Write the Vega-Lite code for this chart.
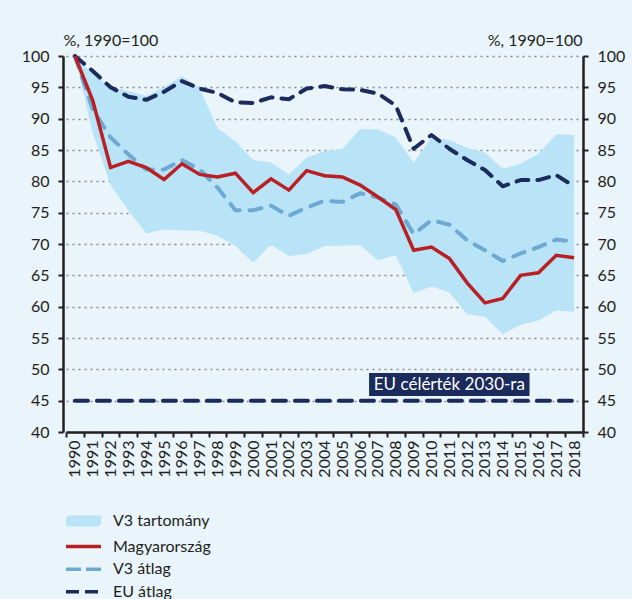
{
  "$schema": "https://vega.github.io/schema/vega-lite/v6.json",
  "width": 517,
  "height": 376,
  "autosize": "none",
  "padding": {"left": 66, "top": 56, "right": 49, "bottom": 167},
  "background": "#EAF4FB",
  "config": {
    "font": "Lato",
    "view": {"stroke": null},
    "axis": {
      "labelFont": "Lato", "labelFontSize": 16, "labelColor": "#231F20",
      "domainColor": "#231F20", "tickColor": "#231F20", "domainWidth": 2.5,
      "tickWidth": 2, "tickSize": 5,
      "titleFont": "Lato", "titleFontSize": 16, "titleColor": "#231F20", "titleFontWeight": "normal"
    },
    "legend": {
      "orient": "none", "legendX": -3, "legendY": 457, "title": null,
      "symbolSize": 100, "symbolStrokeWidth": 3.5, "symbolOpacity": 1,
      "labelFont": "Lato", "labelFontSize": 16, "labelColor": "#231F20",
      "labelOffset": 34, "rowPadding": 6.6
    }
  },
  "datasets": {
    "band": [
      {"year": "1990", "lo": 100, "hi": 100},
      {"year": "1991", "lo": 87.7, "hi": 97.1},
      {"year": "1992", "lo": 79.4, "hi": 95.0},
      {"year": "1993", "lo": 75.3, "hi": 94.4},
      {"year": "1994", "lo": 71.7, "hi": 93.6},
      {"year": "1995", "lo": 72.3, "hi": 95.0},
      {"year": "1996", "lo": 72.2, "hi": 96.8},
      {"year": "1997", "lo": 72.1, "hi": 94.8},
      {"year": "1998", "lo": 71.3, "hi": 88.5},
      {"year": "1999", "lo": 69.7, "hi": 86.4},
      {"year": "2000", "lo": 67.0, "hi": 83.4},
      {"year": "2001", "lo": 69.9, "hi": 83.0},
      {"year": "2002", "lo": 68.1, "hi": 81.1},
      {"year": "2003", "lo": 68.4, "hi": 83.8},
      {"year": "2004", "lo": 69.7, "hi": 84.8},
      {"year": "2005", "lo": 69.8, "hi": 85.2},
      {"year": "2006", "lo": 69.8, "hi": 88.3},
      {"year": "2007", "lo": 67.4, "hi": 88.3},
      {"year": "2008", "lo": 68.2, "hi": 87.0},
      {"year": "2009", "lo": 62.2, "hi": 83.0},
      {"year": "2010", "lo": 63.2, "hi": 87.0},
      {"year": "2011", "lo": 62.3, "hi": 86.6},
      {"year": "2012", "lo": 58.8, "hi": 85.3},
      {"year": "2013", "lo": 58.4, "hi": 84.6},
      {"year": "2014", "lo": 55.6, "hi": 82.0},
      {"year": "2015", "lo": 57.1, "hi": 82.8},
      {"year": "2016", "lo": 57.8, "hi": 84.4},
      {"year": "2017", "lo": 59.4, "hi": 87.5},
      {"year": "2018", "lo": 59.2, "hi": 87.4}
    ],
    "lines": [
      {"year": "1990", "s": "Magyarország", "v": 100},
      {"year": "1991", "s": "Magyarország", "v": 92.9},
      {"year": "1992", "s": "Magyarország", "v": 82.2},
      {"year": "1993", "s": "Magyarország", "v": 83.2},
      {"year": "1994", "s": "Magyarország", "v": 82.2},
      {"year": "1995", "s": "Magyarország", "v": 80.3},
      {"year": "1996", "s": "Magyarország", "v": 82.8},
      {"year": "1997", "s": "Magyarország", "v": 81.1},
      {"year": "1998", "s": "Magyarország", "v": 80.7},
      {"year": "1999", "s": "Magyarország", "v": 81.3},
      {"year": "2000", "s": "Magyarország", "v": 78.2},
      {"year": "2001", "s": "Magyarország", "v": 80.4},
      {"year": "2002", "s": "Magyarország", "v": 78.6},
      {"year": "2003", "s": "Magyarország", "v": 81.7},
      {"year": "2004", "s": "Magyarország", "v": 80.9},
      {"year": "2005", "s": "Magyarország", "v": 80.7},
      {"year": "2006", "s": "Magyarország", "v": 79.4},
      {"year": "2007", "s": "Magyarország", "v": 77.5},
      {"year": "2008", "s": "Magyarország", "v": 75.5},
      {"year": "2009", "s": "Magyarország", "v": 69.0},
      {"year": "2010", "s": "Magyarország", "v": 69.5},
      {"year": "2011", "s": "Magyarország", "v": 67.7},
      {"year": "2012", "s": "Magyarország", "v": 63.8},
      {"year": "2013", "s": "Magyarország", "v": 60.6},
      {"year": "2014", "s": "Magyarország", "v": 61.3},
      {"year": "2015", "s": "Magyarország", "v": 65.0},
      {"year": "2016", "s": "Magyarország", "v": 65.4},
      {"year": "2017", "s": "Magyarország", "v": 68.2},
      {"year": "2018", "s": "Magyarország", "v": 67.8},
      {"year": "1990", "s": "V3 átlag", "v": 100},
      {"year": "1991", "s": "V3 átlag", "v": 91.5},
      {"year": "1992", "s": "V3 átlag", "v": 87.0},
      {"year": "1993", "s": "V3 átlag", "v": 84.3},
      {"year": "1994", "s": "V3 átlag", "v": 81.9},
      {"year": "1995", "s": "V3 átlag", "v": 81.9},
      {"year": "1996", "s": "V3 átlag", "v": 83.4},
      {"year": "1997", "s": "V3 átlag", "v": 81.9},
      {"year": "1998", "s": "V3 átlag", "v": 79.0},
      {"year": "1999", "s": "V3 átlag", "v": 75.4},
      {"year": "2000", "s": "V3 átlag", "v": 75.4},
      {"year": "2001", "s": "V3 átlag", "v": 76.1},
      {"year": "2002", "s": "V3 átlag", "v": 74.5},
      {"year": "2003", "s": "V3 átlag", "v": 75.8},
      {"year": "2004", "s": "V3 átlag", "v": 76.9},
      {"year": "2005", "s": "V3 átlag", "v": 76.7},
      {"year": "2006", "s": "V3 átlag", "v": 78.1},
      {"year": "2007", "s": "V3 átlag", "v": 77.4},
      {"year": "2008", "s": "V3 átlag", "v": 76.3},
      {"year": "2009", "s": "V3 átlag", "v": 71.6},
      {"year": "2010", "s": "V3 átlag", "v": 73.8},
      {"year": "2011", "s": "V3 átlag", "v": 73.1},
      {"year": "2012", "s": "V3 átlag", "v": 70.6},
      {"year": "2013", "s": "V3 átlag", "v": 69.0},
      {"year": "2014", "s": "V3 átlag", "v": 67.3},
      {"year": "2015", "s": "V3 átlag", "v": 68.5},
      {"year": "2016", "s": "V3 átlag", "v": 69.5},
      {"year": "2017", "s": "V3 átlag", "v": 70.7},
      {"year": "2018", "s": "V3 átlag", "v": 70.4},
      {"year": "1990", "s": "EU átlag", "v": 100},
      {"year": "1991", "s": "EU átlag", "v": 97.6},
      {"year": "1992", "s": "EU átlag", "v": 95.0},
      {"year": "1993", "s": "EU átlag", "v": 93.5},
      {"year": "1994", "s": "EU átlag", "v": 93.0},
      {"year": "1995", "s": "EU átlag", "v": 94.3},
      {"year": "1996", "s": "EU átlag", "v": 96.0},
      {"year": "1997", "s": "EU átlag", "v": 94.8},
      {"year": "1998", "s": "EU átlag", "v": 94.1},
      {"year": "1999", "s": "EU átlag", "v": 92.6},
      {"year": "2000", "s": "EU átlag", "v": 92.5},
      {"year": "2001", "s": "EU átlag", "v": 93.4},
      {"year": "2002", "s": "EU átlag", "v": 93.1},
      {"year": "2003", "s": "EU átlag", "v": 94.8},
      {"year": "2004", "s": "EU átlag", "v": 95.2},
      {"year": "2005", "s": "EU átlag", "v": 94.7},
      {"year": "2006", "s": "EU átlag", "v": 94.6},
      {"year": "2007", "s": "EU átlag", "v": 94.0},
      {"year": "2008", "s": "EU átlag", "v": 92.1},
      {"year": "2009", "s": "EU átlag", "v": 85.2},
      {"year": "2010", "s": "EU átlag", "v": 87.4},
      {"year": "2011", "s": "EU átlag", "v": 85.2},
      {"year": "2012", "s": "EU átlag", "v": 83.4},
      {"year": "2013", "s": "EU átlag", "v": 81.8},
      {"year": "2014", "s": "EU átlag", "v": 79.2},
      {"year": "2015", "s": "EU átlag", "v": 80.2},
      {"year": "2016", "s": "EU átlag", "v": 80.2},
      {"year": "2017", "s": "EU átlag", "v": 81.0},
      {"year": "2018", "s": "EU átlag", "v": 79.2}
    ],
    "target": [
      {"year": "1990", "v": 45},
      {"year": "2018", "v": 45}
    ],
    "label": [
      {"year": "2007", "year2": "2016", "top": 49.4, "bottom": 45.75, "mid": 47.55, "center": "2011", "text": "EU célérték 2030-ra"}
    ]
  },
  "layer": [
    {
      "data": {"name": "band"},
      "mark": {"type": "area", "opacity": 1, "color": "#B9E3F6"},
      "encoding": {
        "x": {
          "field": "year", "type": "ordinal", "bandPosition": 0.5,
          "scale": {"type": "band", "paddingInner": 0, "paddingOuter": 0},
          "axis": {"title": null, "labelAngle": -90, "tickBand": "extent", "labelPadding": 3, "grid": false}
        },
        "y": {
          "field": "hi", "type": "quantitative",
          "scale": {"domain": [40, 100], "nice": false, "zero": false},
          "axis": {
            "orient": "left", "offset": 3, "values": [40, 45, 50, 55, 60, 65, 70, 75, 80, 85, 90, 95, 100],
            "grid": true, "gridDash": [2, 4], "gridColor": "#8A8A8A", "gridWidth": 1.5,
            "labelPadding": 9,
            "title": "%, 1990=100", "titleAngle": 0, "titleAlign": "left", "titleBaseline": "alphabetic",
            "titleX": 0, "titleY": -11
          }
        },
        "y2": {"field": "lo"}
      }
    },
    {
      "data": {"name": "lines"},
      "transform": [{"filter": "datum.s === 'V3 átlag'"}],
      "mark": {"type": "line", "strokeWidth": 4, "strokeDash": [12, 10], "strokeCap": "round", "strokeJoin": "round", "color": "#6DA9D2"},
      "encoding": {
        "x": {"field": "year", "type": "ordinal", "bandPosition": 0.5},
        "y": {"field": "v", "type": "quantitative", "axis": null}
      }
    },
    {
      "data": {"name": "lines"},
      "transform": [{"filter": "datum.s === 'EU átlag'"}],
      "mark": {"type": "line", "strokeWidth": 4, "strokeDash": [12, 9], "strokeCap": "round", "strokeJoin": "round", "color": "#1A2B5C"},
      "encoding": {
        "x": {"field": "year", "type": "ordinal", "bandPosition": 0.5},
        "y": {"field": "v", "type": "quantitative", "axis": null}
      }
    },
    {
      "data": {"name": "lines"},
      "transform": [{"filter": "datum.s === 'Magyarország'"}],
      "mark": {"type": "line", "strokeWidth": 3.5, "strokeJoin": "miter", "color": "#B82025"},
      "encoding": {
        "x": {"field": "year", "type": "ordinal", "bandPosition": 0.5},
        "y": {"field": "v", "type": "quantitative", "axis": null}
      }
    },
    {
      "data": {"name": "target"},
      "mark": {"type": "line", "strokeWidth": 4, "strokeDash": [13, 9], "strokeCap": "round", "color": "#1A2B5C"},
      "encoding": {
        "x": {"field": "year", "type": "ordinal", "bandPosition": 0.5},
        "y": {
          "field": "v", "type": "quantitative",
          "axis": {
            "orient": "right", "values": [40, 45, 50, 55, 60, 65, 70, 75, 80, 85, 90, 95, 100],
            "grid": false, "labelPadding": 9,
            "title": "%, 1990=100", "titleAngle": 0, "titleAlign": "right", "titleBaseline": "alphabetic",
            "titleX": -1, "titleY": -11
          }
        }
      }
    },
    {
      "data": {"name": "label"},
      "mark": {"type": "rect", "color": "#1A2B5C"},
      "encoding": {
        "x": {"field": "year", "type": "ordinal", "bandPosition": 0},
        "x2": {"field": "year2", "bandPosition": 0},
        "y": {"field": "top", "type": "quantitative", "axis": null},
        "y2": {"field": "bottom"}
      }
    },
    {
      "data": {"name": "label"},
      "mark": {"type": "text", "color": "white", "fontSize": 17, "font": "Lato", "align": "center", "baseline": "middle"},
      "encoding": {
        "x": {"field": "center", "type": "ordinal", "bandPosition": 0.5},
        "y": {"field": "mid", "type": "quantitative", "axis": null},
        "text": {"field": "text"}
      }
    },
    {
      "data": {"values": [
        {"s": "V3 tartomány"},
        {"s": "Magyarország"},
        {"s": "V3 átlag"},
        {"s": "EU átlag"}
      ]},
      "mark": {"type": "point", "opacity": 0, "size": 0},
      "encoding": {
        "stroke": {
          "field": "s", "type": "nominal",
          "scale": {
            "domain": ["V3 tartomány", "Magyarország", "V3 átlag", "EU átlag"],
            "range": ["#B9E3F6", "#B82025", "#6DA9D2", "#1A2B5C"]
          },
          "legend": {"title": null}
        },
        "fill": {
          "field": "s", "type": "nominal",
          "scale": {
            "domain": ["V3 tartomány", "Magyarország", "V3 átlag", "EU átlag"],
            "range": ["#B9E3F6", "transparent", "transparent", "transparent"]
          },
          "legend": {"title": null}
        },
        "strokeDash": {
          "field": "s", "type": "nominal",
          "scale": {
            "domain": ["V3 tartomány", "Magyarország", "V3 átlag", "EU átlag"],
            "range": [[1, 0], [1, 0], [15, 5], [13, 6]]
          },
          "legend": {"title": null}
        },
        "shape": {
          "field": "s", "type": "nominal",
          "scale": {
            "domain": ["V3 tartomány", "Magyarország", "V3 átlag", "EU átlag"],
            "range": ["M-0.65,-0.75H5.65V0.75H-0.65Z", "M-1,0H6", "M-1,0H6", "M-1,0H6"]
          },
          "legend": {"title": null}
        }
      }
    }
  ],
  "resolve": {"axis": {"y": "independent"}}
}
